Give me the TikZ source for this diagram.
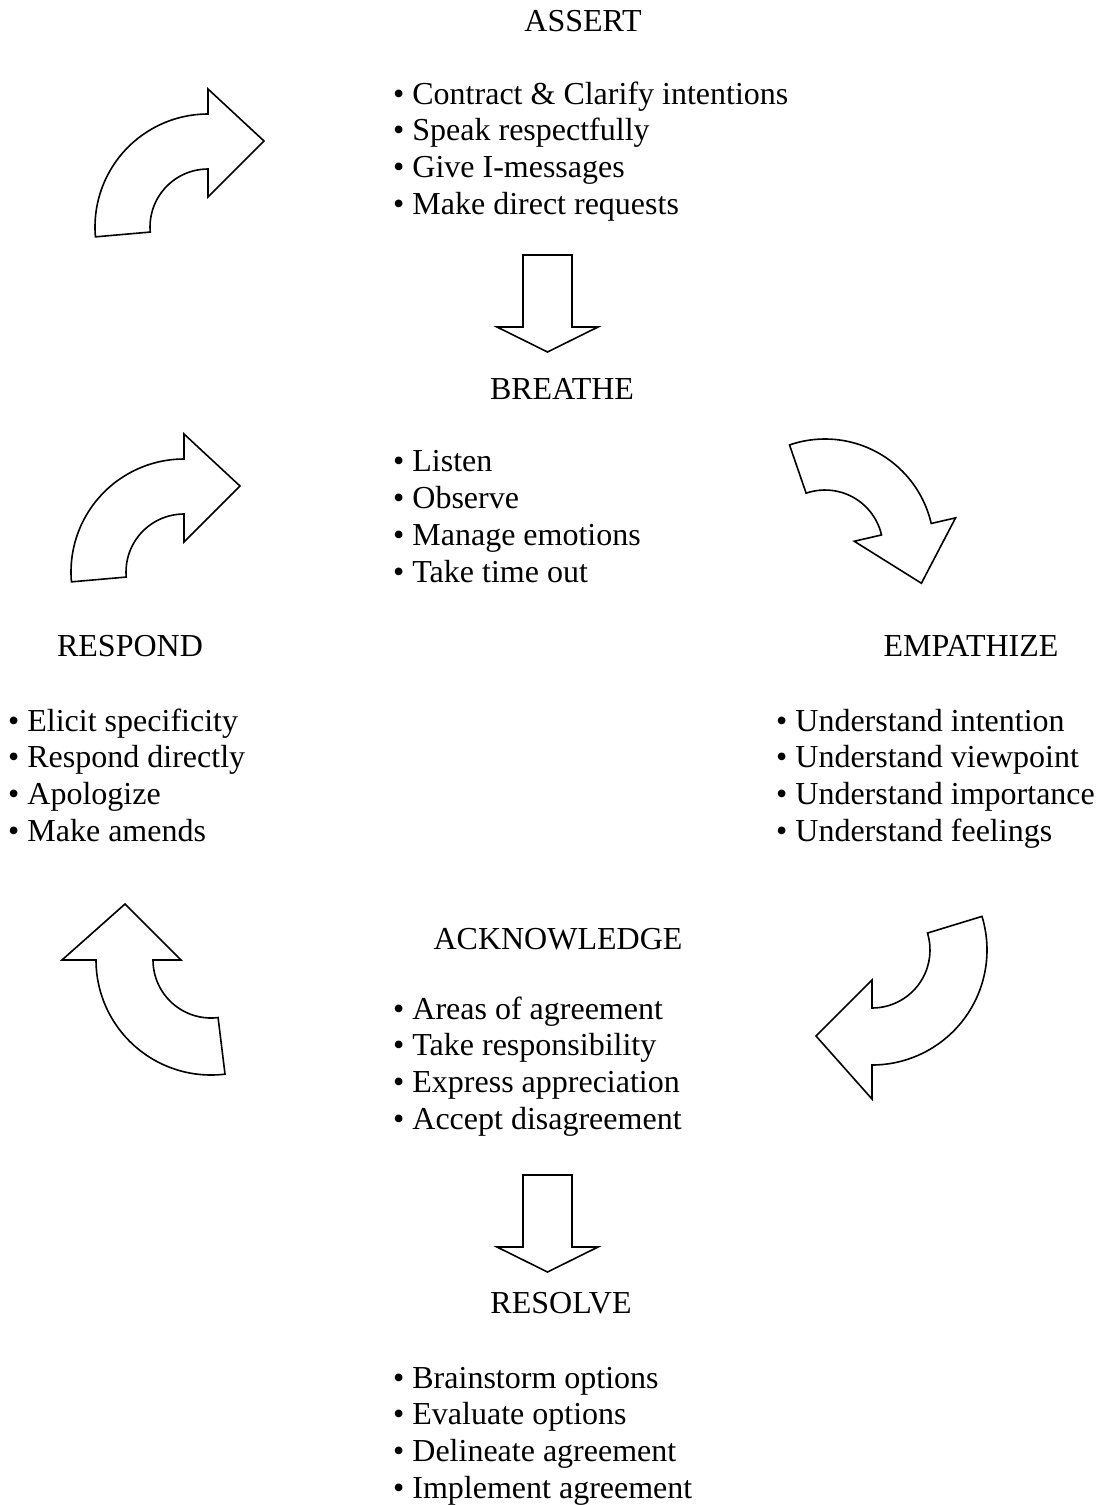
\documentclass[tikz,border=0pt]{standalone}
\usepackage{fontspec}
\setmainfont{Liberation Serif}

\tikzset{
  title/.style={anchor=base,inner sep=0pt,font=\fontsize{32}{37}\selectfont},
  item/.style={anchor=base west,inner sep=0pt,font=\fontsize{32}{37}\selectfont},
  blockarrow/.style={draw=black,line width=1.6pt,line join=miter,fill=white},
  % curved block arrow, centre at origin, head pointing right at the top
  % #1 tail angle, #2 outer radius, #3 outer barb
  pics/bentarrow/.style n args={3}{code={
    \draw[blockarrow] (#1:#2) arc[start angle=#1,end angle=90,radius=#2]
      -- (0,#3) -- (56,86) -- (0,30) -- (0,58)
      arc[start angle=90,end angle=#1,radius=58] -- cycle;
  }},
  % straight block arrow pointing down, origin at top centre
  pics/downarrow/.style={code={
    \draw[blockarrow] (-24.5,0) -- (24.5,0) -- (24.5,-72) -- (50.5,-72)
      -- (0,-97) -- (-50.5,-72) -- (-24.5,-72) -- cycle;
  }}
}

% name, x, baseline of first line, items
\newcommand{\itemlist}[4]{%
  \foreach \txt [count=\i] in {#4}
    \node[item] (#1-\i) at (#2,{#3-36.8*(\i-1)}) {• \txt};
}

\begin{document}
\begin{tikzpicture}[x=1pt,y=1pt]
\useasboundingbox (0,0) rectangle (1101,-1505);

% titles
\node[title] (assert) at (583,-31.7) {ASSERT};
\node[title] (breathe) at (562,-399.5) {BREATHE};
\node[title] (respond) at (130,-656) {RESPOND};
\node[title] (empathize) at (971,-656) {EMPATHIZE};
\node[title] (acknowledge) at (558,-949) {ACKNOWLEDGE};
\node[title] (resolve) at (561,-1313) {RESOLVE};

% bullet lists
\itemlist{assertlist}{393}{-104}{Contract \& Clarify intentions, Speak respectfully, Give I-messages, Make direct requests}
\itemlist{breathelist}{393}{-471.7}{Listen, Observe, Manage emotions, Take time out}
\itemlist{respondlist}{8}{-731}{Elicit specificity, Respond directly, Apologize, Make amends}
\itemlist{empathizelist}{776}{-731}{Understand intention, Understand viewpoint, Understand importance, Understand feelings}
\itemlist{acknowledgelist}{393}{-1019}{Areas of agreement, Take responsibility, Express appreciation, Accept disagreement}
\itemlist{resolvelist}{393}{-1388}{Brainstorm options, Evaluate options, Delineate agreement, Implement agreement}

% straight arrows
\pic at (547.5,-255) {downarrow};
\pic at (547.5,-1175) {downarrow};

% curved arrows
\pic at (208,-227) {bentarrow={185}{113}{138}};
\pic at (184,-572) {bentarrow={185}{113}{138}};
\pic[rotate=-77] at (825,-548) {bentarrow={186}{109}{134}};
\pic[rotate=180] at (872,-950) {bentarrow={197}{115}{149}};
\pic[rotate=90] at (211,-960) {bentarrow={187}{115}{149}};

\end{tikzpicture}
\end{document}
